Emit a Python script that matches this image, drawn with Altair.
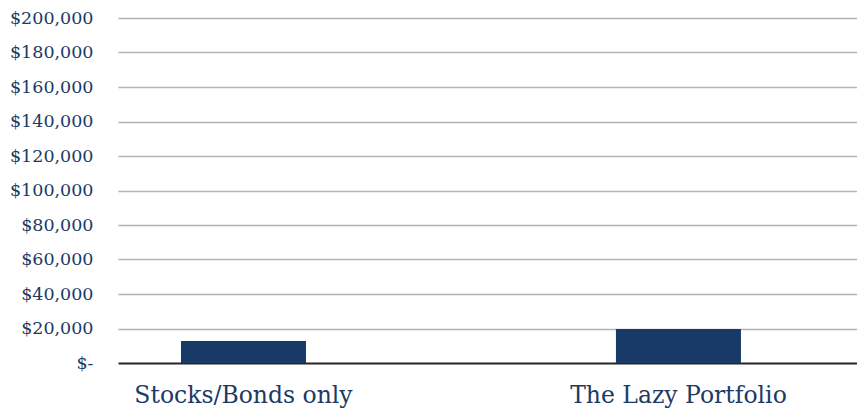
import altair as alt
import pandas as pd

categories = ["Stocks/Bonds only", "The Lazy Portfolio"]
values = [12800, 19700]
y_ticks = [0, 20000, 40000, 60000, 80000, 100000, 120000, 140000, 160000, 180000, 200000]

df = pd.DataFrame({"category": categories, "value": values})

NAVY = "#1b3a66"
FONT = "DejaVu Serif"
PLOT_W = 739

chart = (
    alt.Chart(df)
    .mark_bar(size=125, color="#173a67")
    .encode(
        x=alt.X(
            "category:N",
            sort=categories,
            scale=alt.Scale(paddingInner=0.423, paddingOuter=0.061, align=0),
            axis=alt.Axis(
                title=None,
                labelAngle=0,
                labelFont=FONT,
                labelFontSize=23.5,
                labelColor=NAVY,
                labelPadding=20,
                labelLimit=0,
                labelOverlap=False,
                ticks=False,
                domain=False,
                grid=False,
            ),
        ),
        y=alt.Y(
            "value:Q",
            scale=alt.Scale(domain=[0, 200000], nice=False),
            axis=alt.Axis(
                title=None,
                values=y_ticks,
                labelExpr="datum.value == 0 ? '$-' : '$' + format(datum.value, ',')",
                labelFont=FONT,
                labelFontSize=17.5,
                labelColor=NAVY,
                labelPadding=25,
                labelLimit=0,
                labelOverlap=False,
                ticks=False,
                domain=False,
                grid=True,
                gridColor={"condition": {"test": "datum.value === 0", "value": "#262626"}, "value": "#b3b3b3"},
                gridWidth={"condition": {"test": "datum.value === 0", "value": 2.2}, "value": 1.5},
            ),
        ),
    )
    .properties(
        width=PLOT_W,
        height=345,
        background="white",
        autosize=alt.AutoSizeParams(type="none"),
        padding={"left": 110, "top": 10, "right": 0, "bottom": 45},
    )
    .configure_view(strokeWidth=0, stroke=None)
)

chart.save("out.html", embed_options={"renderer": "svg", "actions": False})
